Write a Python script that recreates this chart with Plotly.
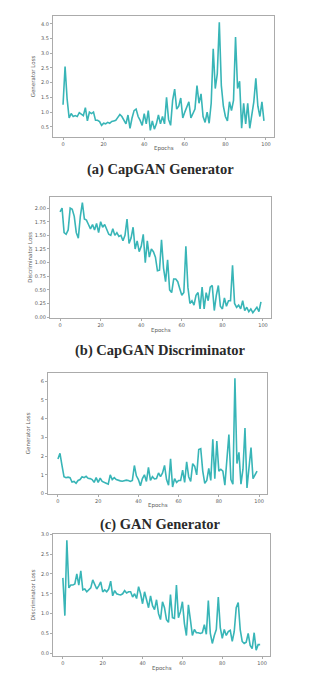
import plotly.graph_objects as go

W, H = 322, 675

epochs = list(range(100))

capgan_gen_loss = [
    1.25, 2.55, 1.45, 0.80, 0.95, 0.85, 0.88, 0.85, 0.98, 0.92,
    0.88, 1.15, 0.70, 1.00, 0.95, 1.00, 0.72, 0.72, 0.68, 0.55,
    0.62, 0.60, 0.65, 0.62, 0.68, 0.70, 0.72, 0.82, 0.92, 0.85,
    0.72, 0.60, 0.90, 0.45, 0.80, 1.05, 1.10, 0.85, 0.72, 0.55,
    0.95, 0.60, 1.05, 0.38, 0.70, 0.42, 0.60, 0.90, 0.60, 0.85,
    0.60, 1.50, 0.75, 0.55, 1.40, 1.78, 1.10, 1.20, 1.48, 0.80,
    1.00, 1.15, 1.35, 0.80, 0.95, 1.10, 1.90, 1.30, 1.62, 0.85,
    0.65, 1.00, 0.62, 1.30, 3.15, 1.80, 2.30, 4.05, 1.90, 1.20,
    0.85, 0.70, 1.35, 1.05, 1.40, 3.55, 1.80, 2.05, 0.45, 1.30,
    0.60, 1.30, 0.45, 0.90, 1.35, 2.15, 1.20, 0.85, 1.35, 0.70,
]

capgan_disc_loss = [
    1.93, 2.00, 1.55, 1.52, 1.60, 2.00, 1.98, 1.85, 1.55, 1.45,
    1.85, 2.10, 1.80, 1.78, 1.70, 1.62, 1.70, 1.60, 1.72, 1.55,
    1.75, 1.65, 1.70, 1.60, 1.52, 1.50, 1.62, 1.50, 1.55, 1.48,
    1.50, 1.40, 1.50, 1.80, 1.35, 1.45, 1.65, 1.25, 1.40, 1.20,
    1.30, 1.52, 1.00, 1.40, 1.10, 1.25, 1.20, 1.10, 0.85, 0.86,
    1.42, 0.90, 0.65, 1.05, 0.50, 0.45, 0.70, 0.70, 0.65, 0.52,
    0.40, 0.45, 1.30, 0.55, 0.25, 0.30, 0.22, 0.40, 0.45, 0.15,
    0.55, 0.15, 0.45, 0.30, 0.55, 0.58, 0.12, 0.40, 0.58, 0.20,
    0.15, 0.35, 0.20, 0.30, 0.30, 0.95, 0.25, 0.18, 0.22, 0.15,
    0.30, 0.12, 0.18, 0.10, 0.15, 0.08, 0.12, 0.18, 0.10, 0.28,
]

gan_gen_loss = [
    1.85, 2.15, 1.50, 0.90, 0.85, 0.88, 0.85, 0.62, 0.65, 0.55,
    0.70, 0.75, 0.90, 0.85, 0.92, 0.82, 0.80, 0.75, 0.60, 0.85,
    0.60, 0.82, 0.65, 0.62, 0.55, 0.50, 1.00, 0.75, 0.85, 0.75,
    0.70, 0.68, 0.66, 0.70, 0.72, 0.70, 0.65, 0.70, 1.50, 0.95,
    0.75, 0.42, 0.80, 1.00, 0.65, 1.40, 0.70, 0.90, 0.78, 0.80,
    1.10, 0.90, 1.10, 1.50, 0.75, 0.45, 1.85, 0.35, 0.80, 0.60,
    0.70, 0.70, 1.25, 0.60, 1.70, 0.90, 0.65, 1.60, 1.45, 1.00,
    2.35, 2.40, 1.20, 0.55, 0.70, 1.35, 0.70, 2.90, 0.80, 2.80,
    1.20, 1.30, 1.20, 0.45, 1.90, 3.15, 0.75, 0.50, 6.15, 1.60,
    2.20, 0.50, 1.30, 3.50, 0.30, 1.30, 2.45, 0.80, 1.00, 1.20,
]

gan_disc_loss = [
    1.90, 0.95, 2.85, 1.65, 1.72, 1.72, 1.75, 2.00, 1.72, 2.08,
    1.60, 1.62, 1.55, 1.60, 1.65, 1.85, 1.75, 1.62, 1.70, 1.80,
    1.55, 1.60, 1.55, 1.62, 1.82, 1.45, 1.58, 1.50, 1.48, 1.47,
    1.50, 1.58, 1.52, 1.55, 1.55, 1.42, 1.50, 1.38, 1.68, 1.50,
    1.25, 1.55, 1.35, 1.15, 1.45, 1.20, 1.10, 1.35, 1.00, 0.85,
    1.30, 1.15, 0.85, 0.78, 1.48, 0.90, 0.88, 1.72, 0.90, 1.05,
    1.30, 0.75, 0.45, 1.22, 0.85, 0.45, 0.60, 0.52, 0.52, 0.50,
    0.52, 0.72, 0.48, 1.33, 0.50, 0.25, 0.45, 0.60, 1.42, 0.65,
    0.38, 0.60, 0.45, 0.55, 0.58, 0.30, 0.55, 1.15, 1.28, 0.60,
    0.30, 0.25, 0.28, 0.50, 0.20, 0.12, 0.52, 0.08, 0.22, 0.22,
]

x_ticks = [0, 20, 40, 60, 80, 100]

panels = [
    dict(y=capgan_gen_loss, ylabel="Generator Loss", caption="(a) CapGAN Generator",
         box=(53, 274, 13, 135), yrange=[0.16, 4.27], yticks=[0.5, 1.0, 1.5, 2.0, 2.5, 3.0, 3.5, 4.0],
         fmt=".1f", cap_y=168),
    dict(y=capgan_disc_loss, ylabel="Discriminator Loss", caption="(b) CapGAN Discriminator",
         box=(50, 271, 196, 318), yrange=[-0.02, 2.2],
         yticks=[0.0, 0.25, 0.5, 0.75, 1.0, 1.25, 1.5, 1.75, 2.0], fmt=".2f", cap_y=351),
    dict(y=gan_gen_loss, ylabel="Generator Loss", caption="(c) GAN Generator",
         box=(48, 267, 373, 495), yrange=[0.0, 6.45], yticks=[0, 1, 2, 3, 4, 5, 6],
         fmt="d", cap_y=526),
    dict(y=gan_disc_loss, ylabel="Discriminator Loss", caption=None,
         box=(53, 270, 536, 659), yrange=[-0.07, 3.0],
         yticks=[0.0, 0.5, 1.0, 1.5, 2.0, 2.5, 3.0], fmt=".1f", cap_y=None),
]

LINE = "#38b5b7"
FRAME = "#ababab"
TICKFONT = dict(family="DejaVu Sans", size=5, color="#5a5a5a")

fig = go.Figure()
annotations = []

for i, p in enumerate(panels, start=1):
    xa = "xaxis" if i == 1 else f"xaxis{i}"
    ya = "yaxis" if i == 1 else f"yaxis{i}"
    xref = "x" if i == 1 else f"x{i}"
    yref = "y" if i == 1 else f"y{i}"
    left, right, top, bottom = p["box"]

    fig.add_trace(go.Scatter(
        x=epochs, y=p["y"], mode="lines",
        line=dict(color=LINE, width=1.6),
        xaxis=xref, yaxis=yref, showlegend=False,
    ))

    fig.layout[xa] = dict(
        domain=[left / W, right / W], anchor=yref,
        range=[-4.95, 103.95], tickvals=x_ticks,
        showline=True, mirror=True, linecolor=FRAME, linewidth=1.2,
        ticks="outside", ticklen=2, tickcolor=FRAME, tickfont=TICKFONT,
        showgrid=False, zeroline=False, fixedrange=True,
    )
    fig.layout[ya] = dict(
        domain=[1 - bottom / H, 1 - top / H], anchor=xref,
        range=p["yrange"], tickvals=p["yticks"], tickformat=p["fmt"],
        showline=True, mirror=True, linecolor=FRAME, linewidth=1.2,
        ticks="outside", ticklen=2, tickcolor=FRAME, tickfont=TICKFONT,
        showgrid=False, zeroline=False, fixedrange=True,
    )

    # axis titles
    annotations.append(dict(
        text="Epochs", x=(left + right) / 2 / W, y=1 - (bottom + 12) / H,
        xref="paper", yref="paper", showarrow=False,
        font=dict(family="DejaVu Sans", size=5.5, color="#5a5a5a"),
        xanchor="center", yanchor="middle",
    ))
    annotations.append(dict(
        text=p["ylabel"], x=(left - 20) / W, y=1 - (top + bottom) / 2 / H,
        xref="paper", yref="paper", showarrow=False, textangle=-90,
        font=dict(family="DejaVu Sans", size=5.5, color="#5a5a5a"),
        xanchor="center", yanchor="middle",
    ))

    if p["caption"]:
        annotations.append(dict(
            text="<b>" + p["caption"] + "</b>", x=160 / W, y=1 - p["cap_y"] / H,
            xref="paper", yref="paper", showarrow=False,
            font=dict(family="Liberation Serif", size=14.5, color="#2a2a2a"),
            xanchor="center", yanchor="middle",
        ))

fig.update_layout(
    width=W, height=H, autosize=False,
    margin=dict(l=0, r=0, t=0, b=0),
    paper_bgcolor="white", plot_bgcolor="white",
    annotations=annotations,
)

fig.write_html("out.html", config={"displayModeBar": False})
